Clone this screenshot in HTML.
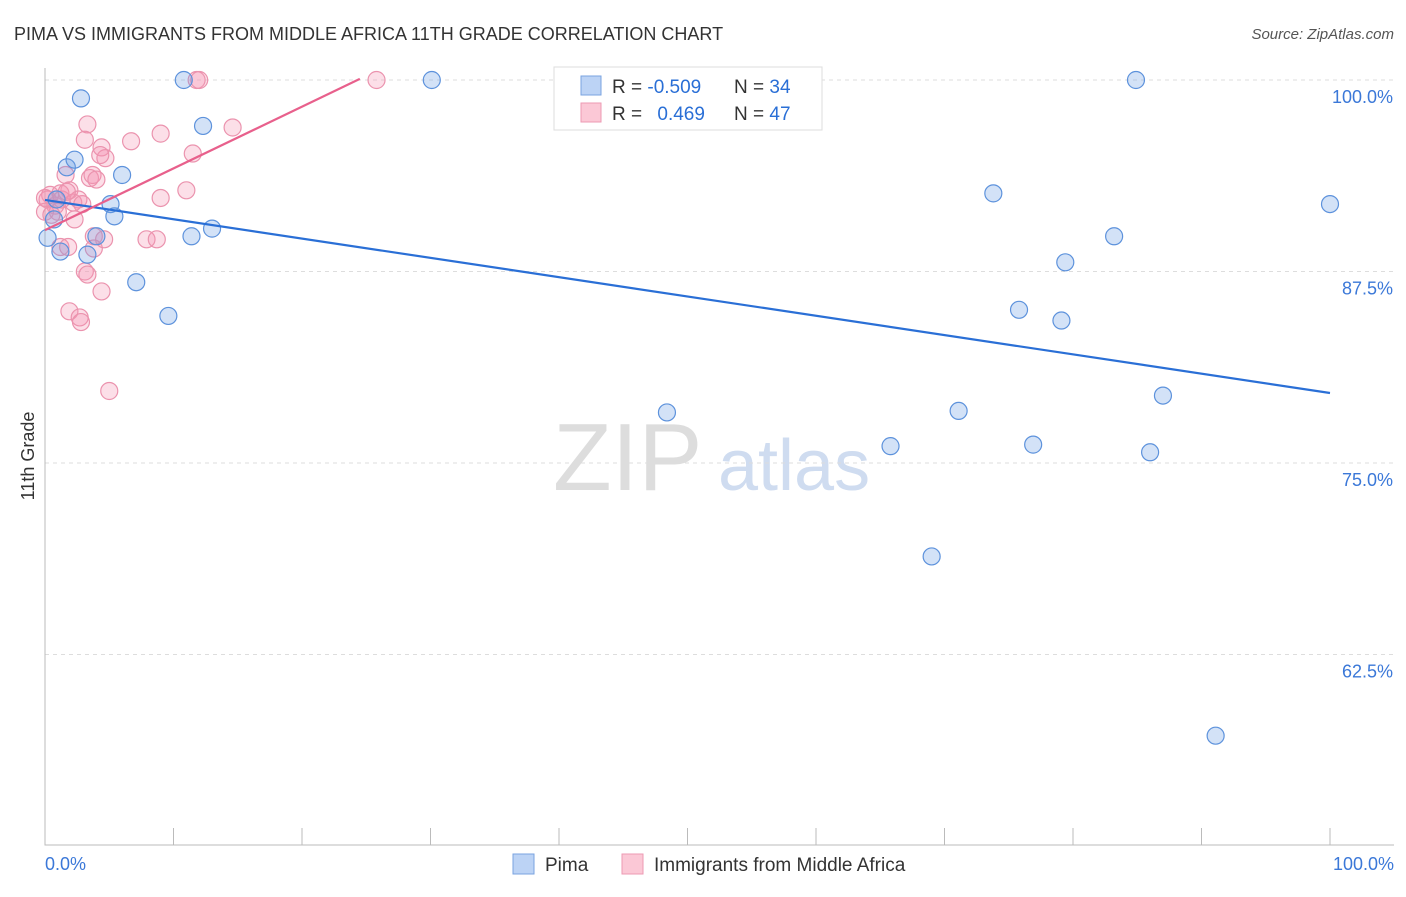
<!DOCTYPE html>
<html><head><meta charset="utf-8"><style>
body{margin:0;background:#fff;font-family:"Liberation Sans",sans-serif;}
svg text{font-family:"Liberation Sans",sans-serif;}
</style></head><body>
<svg width="1406" height="892" viewBox="0 0 1406 892">
<text x="14" y="40" font-size="18" fill="#333">PIMA VS IMMIGRANTS FROM MIDDLE AFRICA 11TH GRADE CORRELATION CHART</text>
<text x="1394" y="39" font-size="15" fill="#555" text-anchor="end" font-style="italic">Source: ZipAtlas.com</text>
<g><text x="553" y="490" font-size="96" fill="#ddd" font-family="Liberation Serif">ZIP</text><text x="718" y="490" font-size="72" fill="#cfdcf0">atlas</text></g>
<g id="grid"></g><g id="axes"></g><g id="marks"></g>
<g>
<rect x="554" y="67" width="268" height="63" fill="#fff" stroke="#ddd"/>
<rect x="581" y="76" width="20" height="19" fill="#bcd3f5" stroke="#7aa3e0"/>
<rect x="581" y="103" width="20" height="19" fill="#fbc8d6" stroke="#ec9ab3"/>
<text x="612" y="93" font-size="19" fill="#333">R = <tspan fill="#2a6fd6">-0.509</tspan></text>
<text x="734" y="93" font-size="19" fill="#333">N = <tspan fill="#2a6fd6">34</tspan></text>
<text x="612" y="120" font-size="19" fill="#333">R = <tspan fill="#2a6fd6" dx="10">0.469</tspan></text>
<text x="734" y="120" font-size="19" fill="#333">N = <tspan fill="#2a6fd6">47</tspan></text>
</g>
<g>
<rect x="513" y="854" width="21" height="20" fill="#bcd3f5" stroke="#7aa3e0"/>
<text x="545" y="871" font-size="19" fill="#333">Pima</text>
<rect x="622" y="854" width="21" height="20" fill="#fbc8d6" stroke="#ec9ab3"/>
<text x="654" y="871" font-size="19" fill="#333">Immigrants from Middle Africa</text>
</g>
<text x="34" y="456" font-size="18" fill="#333" transform="rotate(-90 34 456)" text-anchor="middle">11th Grade</text>
<text x="45" y="870" font-size="18" fill="#3b78d8">0.0%</text>
<text x="1394" y="870" font-size="18" fill="#3b78d8" text-anchor="end">100.0%</text>
</svg>
<script>
const yTicks=[100,87.5,75,62.5];
const yTickLabels=["100.0%","87.5%","75.0%","62.5%"];
const pimaX=[2.8,10.8,30.1,84.9,12.3,1.7,2.3,6.0,5.1,5.4,0.7,0.2,1.2,3.3,4.0,11.4,13.0,7.1,9.6,73.8,100,83.2,79.4,75.8,79.1,48.4,71.1,87.0,65.8,76.9,86.0,69.0,91.1,0.9];
const pimaY=[98.8,100,100,100,97.0,94.3,94.8,93.8,91.9,91.1,90.9,89.7,88.8,88.6,89.8,89.8,90.3,86.8,84.6,92.6,91.9,89.8,88.1,85.0,84.3,78.3,78.4,79.4,76.1,76.2,75.7,68.9,57.2,92.2];
const immX=[11.8,12.0,25.8,3.3,3.1,6.7,9.0,14.6,4.4,4.7,4.3,11.5,3.5,3.7,1.6,1.9,1.2,0.4,0.2,0.8,1.3,2.2,2.6,0,1.0,2.3,9.0,11.0,3.8,4.6,7.9,8.7,1.2,1.8,3.8,3.1,3.3,4.4,1.9,2.7,2.8,5.0,0,0.5,1.7,2.9,4.0];
const immY=[100,100,100,97.1,96.1,96.0,96.5,96.9,95.6,94.9,95.1,95.2,93.6,93.8,93.8,92.8,92.6,92.5,92.2,91.8,92.2,92.0,92.2,91.4,91.4,90.9,92.3,92.8,89.8,89.6,89.6,89.6,89.1,89.1,89.0,87.5,87.3,86.2,84.9,84.5,84.2,79.7,92.3,91.2,92.7,91.9,93.5];
const pimaTrend=[[0,92.17],[100,79.57]];
const immTrend=[[0,90.2],[24.5,100.07]];
const NS="http://www.w3.org/2000/svg";
const xs=v=>45+v*12.85, ys=v=>80+(100-v)*15.32;
function mk(p,t,a){const e=document.createElementNS(NS,t);for(const k in a)e.setAttribute(k,a[k]);p.appendChild(e);return e;}
const grid=document.getElementById('grid'),axes=document.getElementById('axes'),marks=document.getElementById('marks');
yTicks.forEach((v,i)=>{
 const l=mk(grid,'line',{x1:45,x2:1394,y1:ys(v),y2:ys(v),stroke:'#ddd','stroke-dasharray':'4 4'});
 
 
 const t=mk(axes,'text',{x:1393,y:ys(v)+23,'font-size':18,fill:'#3b78d8','text-anchor':'end'});
 t.textContent=yTickLabels[i];
 
 
});
const ax=mk(axes,'path',{d:'M45 68V845H1394',stroke:'#bbb',fill:'none'});


for(let i=0;i<=10;i++){const t=mk(axes,'line',{x1:xs(i*10),x2:xs(i*10),y1:828,y2:845,stroke:'#bbb'});
 
 }
function series(X,Y,fill,stroke,name){X.forEach((x,i)=>{const c=mk(marks,'circle',{cx:xs(x),cy:ys(Y[i]),r:8.5,fill:fill,stroke:stroke,'stroke-width':1.2});
 
 });}
series(immX,immY,'rgba(245,150,180,0.3)','#eb93ae','immigrants-point');
series(pimaX,pimaY,'rgba(110,160,230,0.3)','#5d92dc','pima-point');
const l1=mk(marks,'line',{x1:xs(pimaTrend[0][0]),y1:ys(pimaTrend[0][1]),x2:xs(pimaTrend[1][0]),y2:ys(pimaTrend[1][1]),stroke:'#2a6fd6','stroke-width':2.2});


const l2=mk(marks,'line',{x1:xs(immTrend[0][0]),y1:ys(immTrend[0][1]),x2:xs(immTrend[1][0]),y2:ys(immTrend[1][1]),stroke:'#e8608c','stroke-width':2.2});


</script>
</body></html>
